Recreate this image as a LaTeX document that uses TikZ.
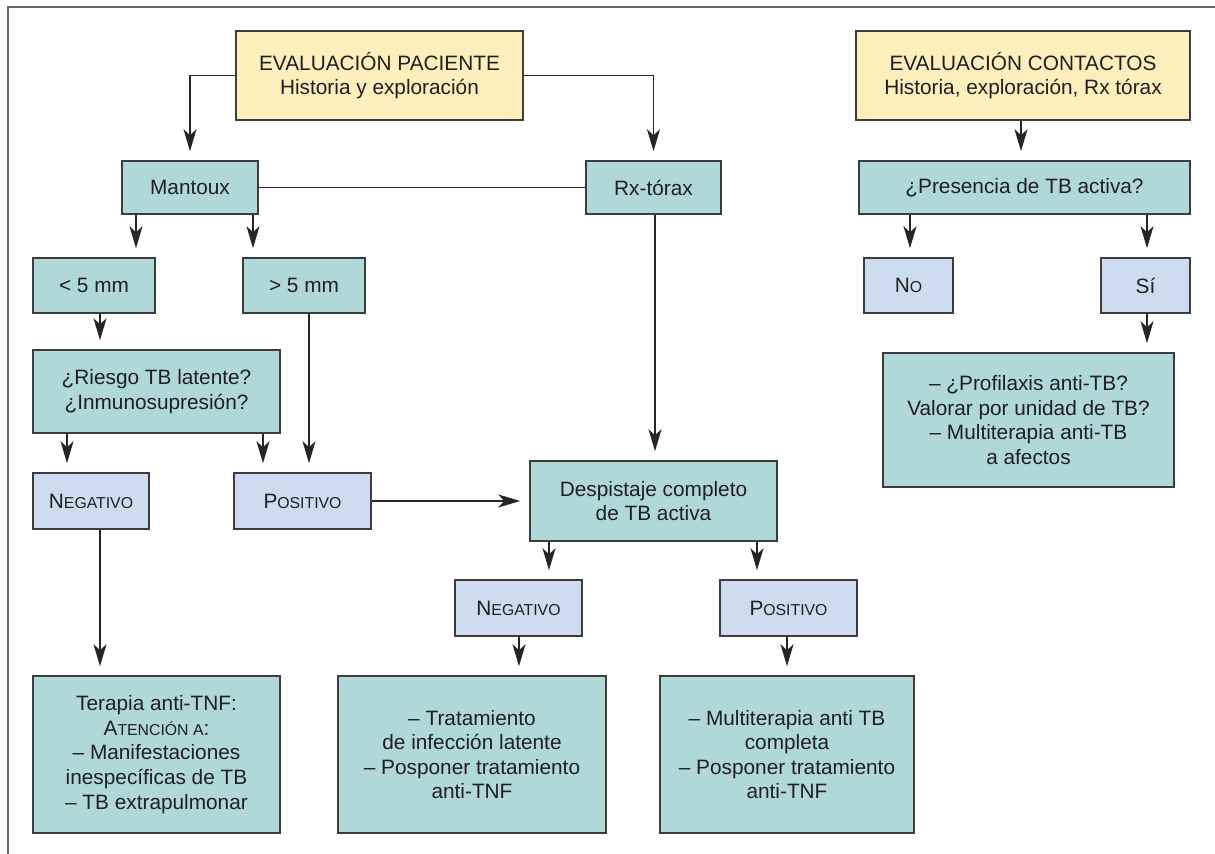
\documentclass[tikz,border=0pt]{standalone}
\usepackage{fontspec}
\setmainfont{Liberation Sans}
\usetikzlibrary{arrows.meta}
\definecolor{yel}{RGB}{252,239,188}
\definecolor{teal}{RGB}{176,216,216}
\definecolor{lblue}{RGB}{205,220,238}
\definecolor{bord}{RGB}{60,60,60}
\newcommand\fsc[2]{#1{\fontsize{7.9}{12}\selectfont #2}}
\newcommand\bx[7]{%
  \pgfmathsetmacro\cx{(#2+#4)/2}\pgfmathsetmacro\cy{(#3+#5)/2}%
  \pgfmathsetmacro\ww{(#4-#2)*0.5}\pgfmathsetmacro\hh{(#5-#3)*0.5}%
  \node[#6, minimum width=\ww pt, minimum height=\hh pt] (#1) at (\cx,\cy) {#7};}
\tikzset{
  base/.style={draw=bord, line width=0.75pt, inner sep=0pt, align=center, font=\fontsize{10.4}{12.3}\selectfont, text=black!88},
  ybox/.style={base, fill=yel},
  tbox/.style={base, fill=teal},
  bbox/.style={base, fill=lblue},
  arr/.style={draw=black!85, line width=0.8pt, -{Stealth[length=11pt,width=6.5pt,inset=3pt]}, shorten >=4.5pt},
  ln/.style={draw=black!85, line width=0.8pt},
}
\begin{document}
\begin{tikzpicture}[x=0.5pt,y=-0.5pt]
\useasboundingbox (0,0) rectangle (1215,854);
\draw[gray!80!black, line width=1pt] (8,854) -- (8,7) -- (1215,7);
\bx{pac}{236}{31}{523}{120}{ybox}{EVALUACIÓN PACIENTE\\Historia y exploración}
\bx{con}{856}{31}{1190}{120}{ybox}{EVALUACIÓN CONTACTOS\\Historia, exploración, Rx tórax}
\bx{man}{122}{161}{258}{214}{tbox}{Mantoux}
\bx{rx}{586}{161}{721}{214}{tbox}{Rx-tórax}
\bx{pres}{859}{161}{1190}{214}{tbox}{¿Presencia de TB activa?}
\bx{lt}{33}{258}{155}{313}{tbox}{< 5 mm}
\bx{gt}{243}{258}{365}{313}{tbox}{> 5 mm}
\bx{no}{864}{258}{953}{313}{bbox}{\fsc{N}{O}}
\bx{si}{1101}{258}{1190}{313}{bbox}{Sí}
\bx{ries}{33}{350}{280}{433}{tbox}{¿Riesgo TB latente?\\¿Inmunosupresión?}
\bx{prof}{883}{353}{1174}{487}{tbox}{– ¿Profilaxis anti-TB?\\Valorar por unidad de TB?\\– Multiterapia anti-TB\\a afectos}
\bx{negL}{33}{473}{149}{529}{bbox}{\fsc{N}{EGATIVO}}
\bx{posL}{234}{473}{371}{529}{bbox}{\fsc{P}{OSITIVO}}
\bx{desp}{530}{461}{777}{541}{tbox}{Despistaje completo\\de TB activa}
\bx{negM}{455}{580}{582}{636}{bbox}{\fsc{N}{EGATIVO}}
\bx{posM}{720}{580}{857}{636}{bbox}{\fsc{P}{OSITIVO}}
\bx{ter}{33}{676}{280}{833}{tbox}{Terapia anti-TNF:\\\fsc{A}{TENCIÓN A}:\\– Manifestaciones\\inespecíficas de TB\\– TB extrapulmonar}
\bx{trat}{338}{676}{606}{833}{tbox}{– Tratamiento\\de infección latente\\– Posponer tratamiento\\anti-TNF}
\bx{mult}{660}{676}{914}{833}{tbox}{– Multiterapia anti TB\\completa\\– Posponer tratamiento\\anti-TNF}
% connectors
\draw[arr] (pac.west) -| (man.north);
\draw[arr] (pac.east) -| (rx.north);
\draw[ln] (man.east) -- (rx.west);
\draw[arr] (136,0 |- man.south) -- (136,0 |- lt.north);
\draw[arr] (253,0 |- man.south) -- (253,0 |- gt.north);
\draw[arr] (100,0 |- lt.south) -- (100,0 |- ries.north);
\draw[arr] (309,0 |- gt.south) -- (309,0 |- posL.north);
\draw[arr] (67,0 |- ries.south) -- (67,0 |- negL.north);
\draw[arr] (263,0 |- ries.south) -- (263,0 |- posL.north);
\draw[arr] (655,0 |- rx.south) -- (655,0 |- desp.north);
\draw[arr] (posL.east) -- (desp.west);
\draw[arr] (100,0 |- negL.south) -- (100,0 |- ter.north);
\draw[arr] (549,0 |- desp.south) -- (549,0 |- negM.north);
\draw[arr] (757,0 |- desp.south) -- (757,0 |- posM.north);
\draw[arr] (519,0 |- negM.south) -- (519,0 |- trat.north);
\draw[arr] (787,0 |- posM.south) -- (787,0 |- mult.north);
\draw[arr] (1021,0 |- con.south) -- (1021,0 |- pres.north);
\draw[arr] (910,0 |- pres.south) -- (910,0 |- no.north);
\draw[arr] (1147,0 |- pres.south) -- (1147,0 |- si.north);
\draw[arr] (1147,0 |- si.south) -- (1147,0 |- prof.north);
\end{tikzpicture}
\end{document}
